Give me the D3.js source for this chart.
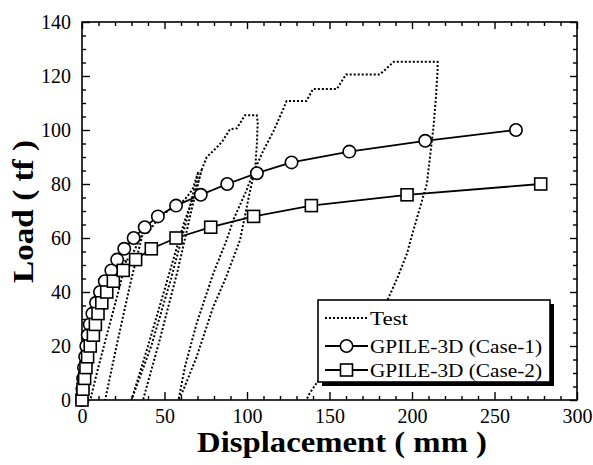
<!DOCTYPE html>
<html><head><meta charset="utf-8">
<script src="https://cdn.jsdelivr.net/npm/d3@7"></script>
<style>body{margin:0;background:#fff}svg{display:block}</style>
</head><body>
<svg id="c" width="593" height="465"></svg>
<script>
// ---- data ----
const case1Disp = [0,0.3,0.7,1.2,1.9,2.6,3.5,4.7,6.3,8.5,10.9,13.8,17.8,21.3,25.6,31.3,38,46,57,72,88,106,127,162,208,263];
const case1Load = [0,4,8,12,16,20,24,28,32,36,40,44,48,52,56,60,64,68,72,76,80,84,88,92,96,100];
const case2Disp = [0,0.6,1.6,2.4,3.4,5,6.9,8.1,9.7,12,15,19,25,32.5,42,57,78,104,139,197,278];
const case2Load = [0,4,8,12,16,20,24,28,32,36,40,44,48,52,56,60,64,68,72,76,80];
// null = pen lift (reloading retraces the previous unloading branch)
const testDisp = [0,1,2.5,4.5,7,10.5,15,20,27, 22,15,9,5, null,
  27,29,33,37, 30,22,14, null,
  37,40,46,54,62,67,70.5, 64,54,42,30, 40,52,62,68,72.5, 67,58,47,37, null,
  72.5,75.6,80,84.7,89.7,93.8,98.8,105.9,
  106.5,106,105,101,95.8,87,79.6,69.5,61.4,58.5,
  62.4,69.5,79.6,87.7,91.7,99.8,103,110,116,120,124,136,140,154.5,160,180.6,189,215.5,
  215.5,214.5,213,209,205,199.5,197,191,184.7,170,155,143,138,136];
const testLoad = [0,5,12,20,28,36,43,48,52, 40,24,10,0, null,
  52,52,57,62, 45,23,0, null,
  62,62,67,71,74,78,84.6, 68,45,20,0, 20,45,66,76,85.2, 72,48,22,0, null,
  85.2,90,92.5,95.5,100.3,100.6,105.5,105.5,
  103,95,86,75,59.3,45,34.6,16,3.7,0,
  12.3,28.4,46.9,59.3,66.7,77.8,83,92.5,99.5,105,110.7,110.7,115.2,115.2,120.6,120.6,125.3,125.3,
  122,112,101,80,71.6,60,54.3,45,36.4,25,14,7,2.5,0];
const xTickLabels = [0,50,100,150,200,250,300];
const yTickLabels = [0,20,40,60,80,100,120,140];
const xMinor = [10,20,30,40,60,70,80,90,110,120,130,140,160,170,180,190,210,220,230,240,260,270,280,290];
const yMinor = [5,10,15,25,30,35,45,50,55,65,70,75,85,90,95,105,110,115,125,130,135];
const legendLabels = ["Test","GPILE-3D (Case-1)","GPILE-3D (Case-2)"];

// ---- chart ----
const svg = d3.select('#c');
const L=82, R=577, T=22, B=400;
const x = d3.scaleLinear().domain([0,300]).range([L,R]);
const y = d3.scaleLinear().domain([0,140]).range([B,T]);
const font = '"Liberation Serif","Times New Roman",serif';

function axis(gen, vals, size, labels, tr, pad){
  const g = svg.append('g').attr('transform', tr)
    .call(gen.tickValues(vals).tickSizeInner(size).tickSizeOuter(0).tickPadding(pad||10)
      .tickFormat(labels ? d3.format('d') : ''));
  g.select('.domain').remove();
  g.selectAll('line').attr('stroke','#000').attr('stroke-width',1.4);
  g.selectAll('text').attr('font-family',font).attr('font-size',20).attr('fill','#000');
  return g;
}
axis(d3.axisBottom(x), xTickLabels, -8, true, `translate(0,${B})`, 9);
axis(d3.axisBottom(x), xMinor, -4, false, `translate(0,${B})`);
axis(d3.axisTop(x), xTickLabels, -7, false, `translate(0,${T})`);
axis(d3.axisTop(x), xMinor, -4, false, `translate(0,${T})`);
axis(d3.axisLeft(y), yTickLabels, -8, true, `translate(${L},0)`, 11);
axis(d3.axisLeft(y), yMinor, -4, false, `translate(${L},0)`);
axis(d3.axisRight(y), yTickLabels, -7, false, `translate(${R},0)`);
axis(d3.axisRight(y), yMinor, -4, false, `translate(${R},0)`);

svg.append('rect').attr('x',L).attr('y',T).attr('width',R-L).attr('height',B-T)
  .attr('fill','none').attr('stroke','#000').attr('stroke-width',1.6);

const line = d3.line().defined(d=>d[0]!=null && d[1]!=null).x(d=>x(d[0])).y(d=>y(d[1]));
const test = testDisp.map((d,i)=>[d,testLoad[i]]);
const c1 = case1Disp.map((d,i)=>[d,case1Load[i]]);
const c2 = case2Disp.map((d,i)=>[d,case2Load[i]]);

svg.append('path').datum(test).attr('d',line).attr('fill','none')
  .attr('stroke','#000').attr('stroke-width',2).attr('stroke-dasharray','2,2');

svg.append('path').datum(c1).attr('d',line).attr('fill','none').attr('stroke','#000').attr('stroke-width',1.8);
svg.append('g').selectAll('circle').data(c1).join('circle')
  .attr('cx',d=>x(d[0])).attr('cy',d=>y(d[1])).attr('r',6.2)
  .attr('fill','#fff').attr('stroke','#000').attr('stroke-width',1.6);

svg.append('path').datum(c2).attr('d',line).attr('fill','none').attr('stroke','#000').attr('stroke-width',1.8);
const S=12;
svg.append('g').selectAll('rect').data(c2).join('rect')
  .attr('x',d=>x(d[0])-S/2).attr('y',d=>y(d[1])-S/2).attr('width',S).attr('height',S)
  .attr('fill','#fff').attr('stroke','#000').attr('stroke-width',1.6);

svg.append('text').attr('x',197).attr('y',452).attr('font-family',font).attr('font-weight','bold')
  .attr('font-size',29).attr('textLength',290).attr('lengthAdjust','spacingAndGlyphs')
  .text('Displacement ( mm )');
svg.append('text').attr('transform','translate(33,283) rotate(-90)').attr('font-family',font)
  .attr('font-weight','bold').attr('font-size',29).attr('textLength',143).attr('lengthAdjust','spacingAndGlyphs')
  .text('Load ( tf )');

const lg = svg.append('g');
lg.append('rect').attr('x',322).attr('y',304).attr('width',232).attr('height',82).attr('fill','#000');
lg.append('rect').attr('x',318).attr('y',300).attr('width',232).attr('height',82)
  .attr('fill','#fff').attr('stroke','#000').attr('stroke-width',1.6);
const rows=[318,346,370];
const sx0=325, sx1=368;
lg.append('line').attr('x1',sx0).attr('x2',sx1).attr('y1',rows[0]).attr('y2',rows[0])
  .attr('stroke','#000').attr('stroke-width',2).attr('stroke-dasharray','2,2');
lg.append('line').attr('x1',sx0).attr('x2',sx1).attr('y1',rows[1]).attr('y2',rows[1]).attr('stroke','#000').attr('stroke-width',1.8);
lg.append('circle').attr('cx',(sx0+sx1)/2).attr('cy',rows[1]).attr('r',6.2).attr('fill','#fff').attr('stroke','#000').attr('stroke-width',1.6);
lg.append('line').attr('x1',sx0).attr('x2',sx1).attr('y1',rows[2]).attr('y2',rows[2]).attr('stroke','#000').attr('stroke-width',1.8);
lg.append('rect').attr('x',(sx0+sx1)/2-S/2).attr('y',rows[2]-S/2).attr('width',S).attr('height',S).attr('fill','#fff').attr('stroke','#000').attr('stroke-width',1.6);
const tl=[38,172,172];
legendLabels.forEach((t,i)=>{
  lg.append('text').attr('x',370).attr('y',rows[i]+6.5).attr('font-family',font).attr('font-size',19.5)
    .attr('textLength',tl[i]).attr('lengthAdjust','spacingAndGlyphs').text(t);
});
</script>
</body></html>
